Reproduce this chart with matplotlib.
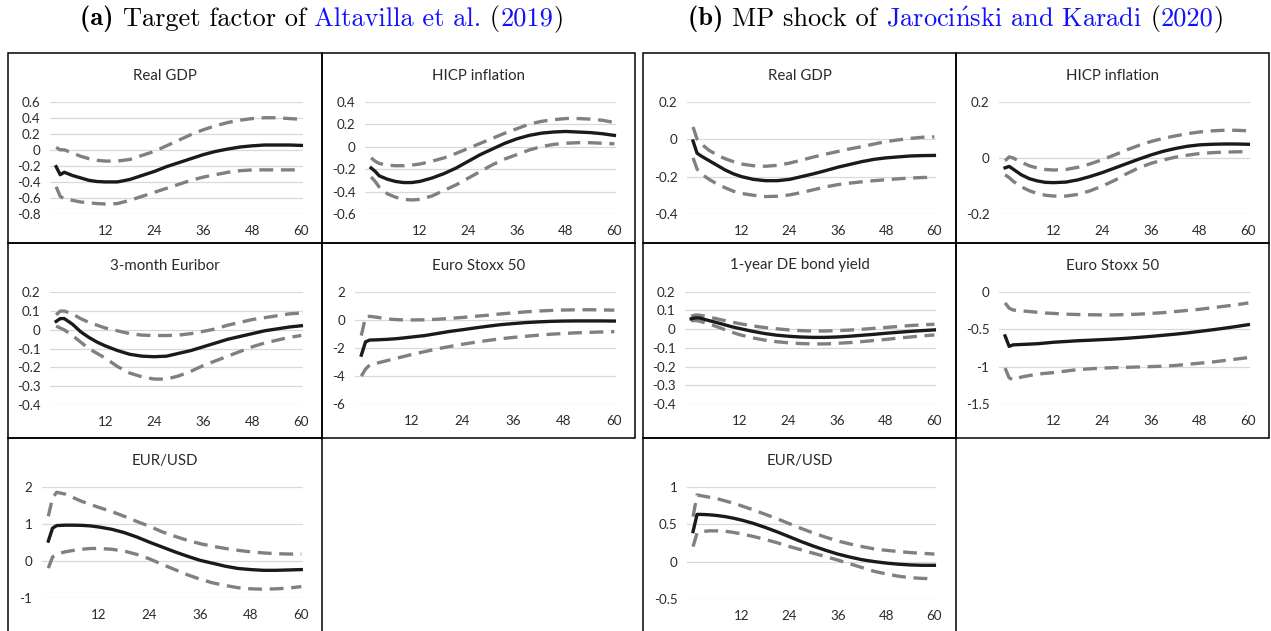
import matplotlib
matplotlib.use("Agg")
import matplotlib.pyplot as plt
from matplotlib.patches import Rectangle

plt.rcParams["mathtext.fontset"] = "cm"
plt.rcParams["lines.scale_dashes"] = False

# ---------------- data ----------------
horizon = [0, 1, 2, 4, 6, 8, 10, 12, 15, 18, 21, 24, 27, 30, 33, 36, 39, 42, 45, 48, 51, 54, 57, 60]
x_ticks = [12, 24, 36, 48, 60]

# (a) Target factor of Altavilla et al. (2019)
a_gdp_mid = [-0.21, -0.31, -0.28, -0.32, -0.35, -0.38, -0.395, -0.40, -0.40, -0.37, -0.32, -0.27, -0.21, -0.16, -0.11, -0.06, -0.02, 0.01, 0.035, 0.05, 0.06, 0.06, 0.06, 0.055]
a_gdp_hi = [0.03, 0.0, 0.0, -0.04, -0.08, -0.11, -0.13, -0.14, -0.14, -0.12, -0.07, -0.02, 0.05, 0.12, 0.19, 0.25, 0.30, 0.34, 0.37, 0.39, 0.40, 0.40, 0.39, 0.38]
a_gdp_lo = [-0.46, -0.58, -0.61, -0.63, -0.65, -0.66, -0.67, -0.675, -0.67, -0.63, -0.58, -0.53, -0.48, -0.43, -0.38, -0.34, -0.31, -0.28, -0.26, -0.25, -0.25, -0.25, -0.25, -0.25]
a_gdp_yticks = [0.6, 0.4, 0.2, 0, -0.2, -0.4, -0.6, -0.8]

a_hicp_mid = [-0.19, -0.22, -0.26, -0.29, -0.31, -0.32, -0.32, -0.31, -0.28, -0.24, -0.19, -0.13, -0.07, -0.02, 0.03, 0.07, 0.10, 0.12, 0.13, 0.135, 0.13, 0.125, 0.115, 0.10]
a_hicp_hi = [-0.10, -0.13, -0.15, -0.165, -0.17, -0.17, -0.165, -0.155, -0.13, -0.10, -0.06, -0.015, 0.03, 0.075, 0.12, 0.16, 0.20, 0.225, 0.24, 0.25, 0.25, 0.245, 0.235, 0.215]
a_hicp_lo = [-0.27, -0.31, -0.36, -0.42, -0.45, -0.47, -0.475, -0.47, -0.44, -0.39, -0.34, -0.28, -0.22, -0.16, -0.11, -0.07, -0.03, 0.0, 0.02, 0.03, 0.035, 0.035, 0.03, 0.025]
a_hicp_yticks = [0.4, 0.2, 0, -0.2, -0.4, -0.6]

a_eur_mid = [0.045, 0.06, 0.06, 0.03, -0.01, -0.04, -0.065, -0.085, -0.11, -0.13, -0.14, -0.143, -0.14, -0.125, -0.11, -0.09, -0.07, -0.05, -0.035, -0.02, -0.005, 0.005, 0.015, 0.022]
a_eur_hi = [0.08, 0.10, 0.10, 0.085, 0.06, 0.04, 0.025, 0.01, -0.005, -0.02, -0.028, -0.03, -0.03, -0.028, -0.02, -0.008, 0.005, 0.025, 0.04, 0.055, 0.065, 0.075, 0.085, 0.09]
a_eur_lo = [0.02, 0.01, 0.0, -0.03, -0.065, -0.10, -0.125, -0.15, -0.195, -0.23, -0.25, -0.262, -0.262, -0.245, -0.22, -0.19, -0.165, -0.14, -0.115, -0.09, -0.07, -0.055, -0.04, -0.03]
a_eur_yticks = [0.2, 0.1, 0, -0.1, -0.2, -0.3, -0.4]

a_stoxx_mid = [-2.5, -1.55, -1.42, -1.4, -1.37, -1.33, -1.27, -1.2, -1.1, -0.95, -0.8, -0.68, -0.55, -0.43, -0.32, -0.24, -0.17, -0.12, -0.08, -0.06, -0.05, -0.05, -0.05, -0.06]
a_stoxx_hi = [-1.1, 0.25, 0.28, 0.2, 0.1, 0.05, 0.02, 0.02, 0.03, 0.07, 0.13, 0.2, 0.28, 0.36, 0.45, 0.53, 0.6, 0.66, 0.7, 0.73, 0.75, 0.75, 0.74, 0.72]
a_stoxx_lo = [-4.0, -3.5, -3.2, -3.05, -2.9, -2.75, -2.6, -2.45, -2.25, -2.05, -1.88, -1.72, -1.58, -1.45, -1.33, -1.23, -1.15, -1.07, -1.0, -0.95, -0.9, -0.87, -0.84, -0.82]
a_stoxx_yticks = [2, 0, -2, -4, -6]

a_fx_mid = [0.53, 0.88, 0.95, 0.96, 0.96, 0.955, 0.94, 0.91, 0.85, 0.76, 0.64, 0.5, 0.37, 0.24, 0.12, 0.01, -0.07, -0.15, -0.21, -0.24, -0.26, -0.26, -0.25, -0.24]
a_fx_hi = [1.2, 1.7, 1.85, 1.8, 1.7, 1.6, 1.52, 1.44, 1.33, 1.2, 1.06, 0.93, 0.78, 0.66, 0.55, 0.46, 0.39, 0.33, 0.28, 0.24, 0.21, 0.19, 0.18, 0.18]
a_fx_lo = [-0.2, 0.1, 0.18, 0.24, 0.28, 0.31, 0.33, 0.33, 0.31, 0.26, 0.17, 0.05, -0.1, -0.24, -0.38, -0.5, -0.6, -0.67, -0.73, -0.76, -0.77, -0.76, -0.74, -0.7]
a_fx_yticks = [2, 1, 0, -1]

# (b) MP shock of Jarocinski and Karadi (2020)
b_gdp_mid = [-0.01, -0.075, -0.09, -0.115, -0.14, -0.165, -0.185, -0.2, -0.215, -0.222, -0.222, -0.215, -0.2, -0.185, -0.168, -0.15, -0.135, -0.12, -0.108, -0.1, -0.095, -0.09, -0.088, -0.087]
b_gdp_hi = [0.065, 0.0, -0.025, -0.06, -0.085, -0.105, -0.12, -0.133, -0.142, -0.145, -0.14, -0.128, -0.112, -0.095, -0.08, -0.066, -0.052, -0.04, -0.026, -0.013, -0.004, 0.004, 0.01, 0.012]
b_gdp_lo = [-0.1, -0.16, -0.185, -0.215, -0.24, -0.26, -0.278, -0.29, -0.3, -0.307, -0.305, -0.298, -0.285, -0.27, -0.255, -0.243, -0.235, -0.228, -0.222, -0.217, -0.212, -0.208, -0.205, -0.204]
b_gdp_yticks = [0.2, 0, -0.2, -0.4]

b_hicp_mid = [-0.035, -0.03, -0.04, -0.06, -0.074, -0.082, -0.087, -0.088, -0.086, -0.078, -0.066, -0.052, -0.036, -0.02, -0.004, 0.011, 0.024, 0.034, 0.042, 0.047, 0.049, 0.05, 0.05, 0.049]
b_hicp_hi = [-0.01, 0.004, 0.0, -0.015, -0.028, -0.036, -0.041, -0.043, -0.041, -0.033, -0.021, -0.006, 0.011, 0.029, 0.045, 0.059, 0.07, 0.079, 0.087, 0.093, 0.097, 0.099, 0.099, 0.097]
b_hicp_lo = [-0.06, -0.07, -0.083, -0.103, -0.117, -0.127, -0.133, -0.136, -0.136, -0.13, -0.117, -0.1, -0.08, -0.056, -0.035, -0.019, -0.007, 0.003, 0.01, 0.016, 0.019, 0.021, 0.022, 0.023]
b_hicp_yticks = [0.2, 0, -0.2]

b_bond_mid = [0.055, 0.06, 0.06, 0.048, 0.037, 0.025, 0.013, 0.003, -0.011, -0.023, -0.032, -0.038, -0.042, -0.044, -0.044, -0.042, -0.038, -0.033, -0.028, -0.022, -0.017, -0.012, -0.008, -0.004]
b_bond_hi = [0.068, 0.075, 0.075, 0.066, 0.057, 0.047, 0.038, 0.029, 0.018, 0.009, 0.002, -0.004, -0.008, -0.01, -0.01, -0.008, -0.005, -0.001, 0.004, 0.009, 0.014, 0.019, 0.023, 0.026]
b_bond_lo = [0.045, 0.046, 0.043, 0.03, 0.016, 0.0, -0.016, -0.03, -0.046, -0.058, -0.067, -0.073, -0.077, -0.079, -0.079, -0.076, -0.072, -0.067, -0.061, -0.055, -0.048, -0.042, -0.036, -0.031]
b_bond_yticks = [0.2, 0.1, 0, -0.1, -0.2, -0.3, -0.4]

b_stoxx_mid = [-0.59, -0.73, -0.71, -0.705, -0.70, -0.695, -0.685, -0.675, -0.665, -0.655, -0.648, -0.64, -0.632, -0.622, -0.61, -0.597, -0.582, -0.567, -0.55, -0.53, -0.51, -0.488, -0.465, -0.44]
b_stoxx_hi = [-0.15, -0.22, -0.245, -0.255, -0.265, -0.275, -0.285, -0.29, -0.3, -0.305, -0.308, -0.31, -0.31, -0.305, -0.3, -0.29, -0.28, -0.265, -0.25, -0.235, -0.215, -0.195, -0.175, -0.15]
b_stoxx_lo = [-1.02, -1.15, -1.18, -1.14, -1.12, -1.10, -1.09, -1.08, -1.06, -1.04, -1.03, -1.02, -1.015, -1.01, -1.005, -1.0, -0.995, -0.985, -0.97, -0.955, -0.94, -0.92, -0.9, -0.88]
b_stoxx_yticks = [0, -0.5, -1, -1.5]

b_fx_mid = [0.4, 0.63, 0.63, 0.625, 0.615, 0.6, 0.58, 0.555, 0.51, 0.455, 0.395, 0.33, 0.265, 0.205, 0.15, 0.1, 0.06, 0.025, 0.0, -0.02, -0.035, -0.045, -0.05, -0.05]
b_fx_hi = [0.6, 0.89, 0.88, 0.86, 0.84, 0.81, 0.78, 0.745, 0.69, 0.63, 0.57, 0.505, 0.44, 0.38, 0.325, 0.275, 0.235, 0.2, 0.17, 0.15, 0.135, 0.12, 0.11, 0.1]
b_fx_lo = [0.2, 0.38, 0.4, 0.41, 0.41, 0.405, 0.39, 0.37, 0.335, 0.295, 0.25, 0.2, 0.155, 0.11, 0.065, 0.02, -0.03, -0.08, -0.13, -0.165, -0.195, -0.215, -0.225, -0.23]
b_fx_yticks = [1, 0.5, 0, -0.5]

# ---------------- figure ----------------
W, H = 1271, 631
fig = plt.figure(figsize=(W / 100, H / 100), dpi=100)
fig.patch.set_facecolor("white")

FONT = "Lato"
TXT = "#2a2a2a"


def fx(px):
    return px / W


def fy(py):
    return 1 - py / H


def panel(box, area, title, yticks, mid, lo, hi):
    x0, y0, x1, y1 = box
    fig.add_artist(Rectangle((fx(x0), fy(y1)), (x1 - x0) / W, (y1 - y0) / H,
                             fill=False, ec="black", lw=1.1,
                             transform=fig.transFigure, clip_on=False))
    fig.text(fx((x0 + x1) / 2), fy(y0 + 22.5), title, ha="center", va="center",
             fontsize=10.8, family=FONT, color=TXT)
    gx0, gx1, gy0, gy1 = area
    ax = fig.add_axes([fx(gx0), fy(gy1), (gx1 - gx0) / W, (gy1 - gy0) / H])
    ax.set_facecolor("none")
    for s in ax.spines.values():
        s.set_visible(False)
    ax.set_xlim(-1.5, 60.4)
    ax.set_ylim(min(yticks), max(yticks))
    ax.set_yticks(yticks)
    ax.set_yticklabels(["{:g}".format(v) for v in yticks])
    ax.set_xticks(x_ticks)
    ax.set_xticklabels([str(v) for v in x_ticks])
    ax.tick_params(length=0, labelsize=9.6, labelcolor=TXT)
    ax.tick_params(axis="x", pad=8)
    ax.tick_params(axis="y", pad=7)
    for lab in ax.get_xticklabels() + ax.get_yticklabels():
        lab.set_family(FONT)
    ax.grid(axis="y", color="#d9d9d9", lw=0.9)
    ax.set_axisbelow(True)
    ax.plot(horizon, hi, color="#808080", lw=2.4, dashes=(10, 5.5), solid_capstyle="butt", clip_on=False)
    ax.plot(horizon, lo, color="#808080", lw=2.4, dashes=(10, 5.5), solid_capstyle="butt", clip_on=False)
    ax.plot(horizon, mid, color="#1a1a1a", lw=2.4, clip_on=False)
    return ax


# (a)
panel((8, 53, 322, 243), (50, 303, 101.7, 214), "Real GDP", a_gdp_yticks, a_gdp_mid, a_gdp_lo, a_gdp_hi)
panel((322, 53, 635, 243), (365, 616, 101.7, 214), "HICP inflation", a_hicp_yticks, a_hicp_mid, a_hicp_lo, a_hicp_hi)
panel((8, 243, 322, 438), (50, 303, 292.3, 405), "3-month Euribor", a_eur_yticks, a_eur_mid, a_eur_lo, a_eur_hi)
panel((322, 243, 635, 438), (355, 616, 292.3, 404), "Euro Stoxx 50", a_stoxx_yticks, a_stoxx_mid, a_stoxx_lo, a_stoxx_hi)
panel((8, 438, 322, 634), (42, 303, 486.7, 597.7), "EUR/USD", a_fx_yticks, a_fx_mid, a_fx_lo, a_fx_hi)
# (b)
panel((643, 53, 956, 243), (687, 936, 101.7, 214), "Real GDP", b_gdp_yticks, b_gdp_mid, b_gdp_lo, b_gdp_hi)
panel((956, 53, 1269, 243), (999, 1250, 102, 214), "HICP inflation", b_hicp_yticks, b_hicp_mid, b_hicp_lo, b_hicp_hi)
panel((643, 243, 956, 438), (685, 936, 291.7, 404), "1-year DE bond yield", b_bond_yticks, b_bond_mid, b_bond_lo, b_bond_hi)
panel((956, 243, 1269, 438), (999, 1250, 291.7, 404), "Euro Stoxx 50", b_stoxx_yticks, b_stoxx_mid, b_stoxx_lo, b_stoxx_hi)
panel((643, 438, 956, 634), (687, 936, 486.7, 599), "EUR/USD", b_fx_yticks, b_fx_mid, b_fx_lo, b_fx_hi)

# group captions (multi-colour)
BLUE = "#1010ff"
renderer = fig.canvas.get_renderer()


def caption(cx, cy, pieces, size=19):
    texts = []
    for s, col, fam in pieces:
        t = fig.text(0, fy(cy), s, color=col, family=fam, fontsize=size,
                     ha="left", va="center")
        texts.append(t)
    widths = [t.get_window_extent(renderer).width for t in texts]
    total = sum(widths)
    x = cx - total / 2
    for t, w in zip(texts, widths):
        t.set_x(x / W)
        x += w


caption(322, 19, [("(a) ", "black", "cmb10"),
                  ("Target factor of ", "black", "cmr10"),
                  ("Altavilla et al.", BLUE, "cmr10"),
                  (" (", "black", "cmr10"),
                  ("2019", BLUE, "cmr10"),
                  (")", "black", "cmr10")])
caption(956, 19, [("(b) ", "black", "cmb10"),
                  ("MP shock of ", "black", "cmr10"),
                  (r"Jaroci$\mathrm{\acute{n}}$ski and Karadi", BLUE, "cmr10"),
                  (" (", "black", "cmr10"),
                  ("2020", BLUE, "cmr10"),
                  (")", "black", "cmr10")])

fig.savefig("out.png", dpi=100, facecolor="white")
